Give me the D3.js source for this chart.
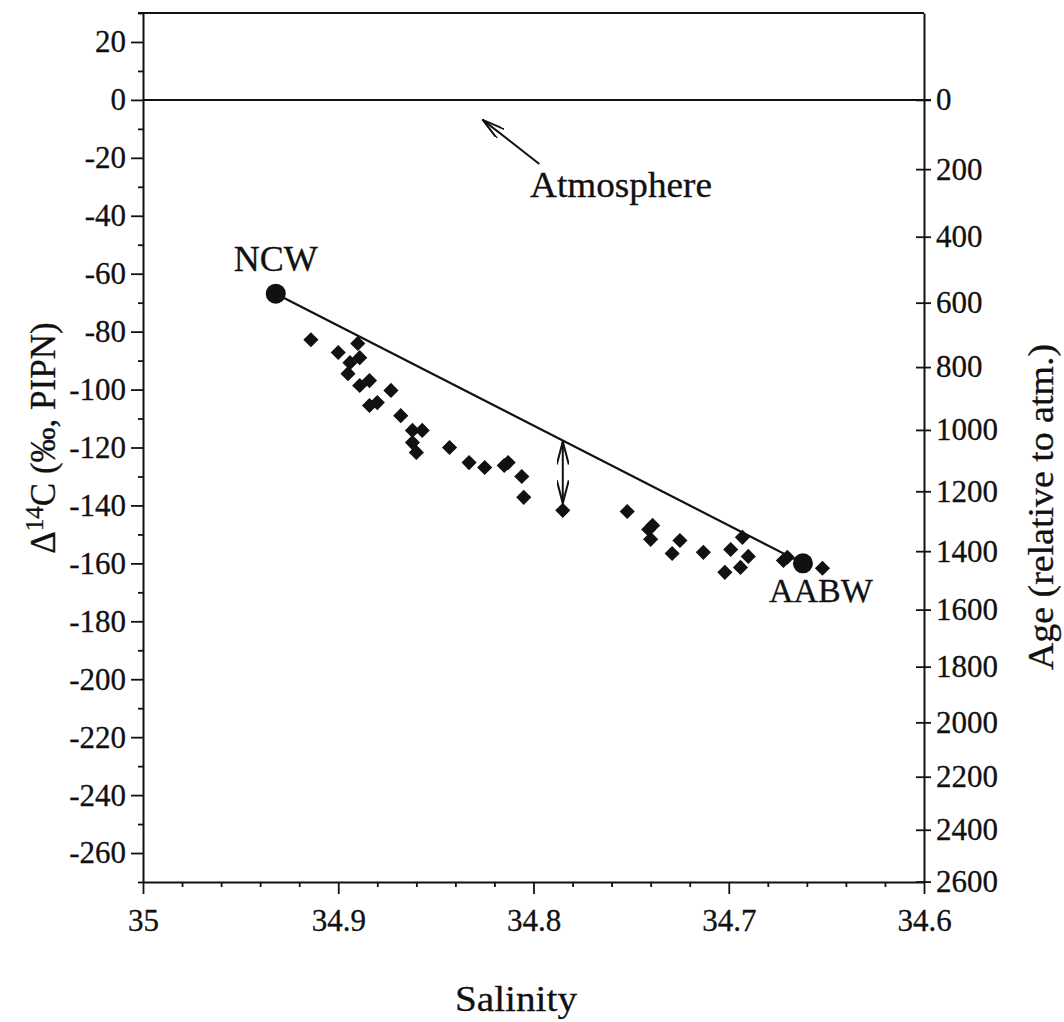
<!DOCTYPE html>
<html>
<head>
<meta charset="utf-8">
<script src="https://cdn.jsdelivr.net/npm/d3@7"></script>
<style>
  body { margin: 0; background: #fff; }
  svg text { stroke: #111; stroke-width: 0.3px; }
</style>
</head>
<body>
<div class="chart"></div>
<script>
const serif = "'Liberation Serif', 'Times New Roman', serif";

// measured samples
const salinity = [34.914, 34.900, 34.890, 34.889, 34.894, 34.895, 34.889, 34.884, 34.873, 34.884,
    34.880, 34.868, 34.862, 34.857, 34.862, 34.860, 34.843, 34.833, 34.825, 34.815,
    34.813, 34.806, 34.805, 34.785, 34.752, 34.739, 34.741, 34.740, 34.725, 34.729,
    34.713, 34.699, 34.693, 34.690, 34.694, 34.702, 34.670, 34.672, 34.652];
const delta14C = [-82.8, -87.2, -84.1, -89.0, -90.7, -94.5, -98.6, -96.9, -100.3, -105.5,
    -104.5, -109.0, -114.1, -114.1, -118.3, -121.7, -120.0, -125.2, -126.9, -126.2,
    -125.2, -130.0, -137.2, -141.7, -142.1, -146.9, -148.3, -151.7, -152.1, -156.6,
    -156.2, -155.2, -151.0, -157.6, -161.4, -163.1, -157.9, -159.0, -161.7];

// end members (mixing line)
const endNames = ["NCW", "AABW"];
const endSalinity = [34.932, 34.662];
const endDelta = [-66.9, -160.0];

const deltaTicks = d3.range(-260, 21, 20);
const ageTicks = d3.range(0, 2601, 200);
const salTicks = [35, 34.9, 34.8, 34.7, 34.6];

// annotation: atmosphere arrow (tail -> head), and gap arrow at one sample
const atmArrowSal = [34.797, 34.826];
const atmArrowDelta = [-22.1, -6.9];
const gapSampleIndex = 23;

const meanLife = 8267;
const ageToDelta = a => 1000 * (Math.exp(-a / meanLife) - 1);

const W = 1064, H = 1022;
const margin = {top: 13, left: 143, right: 140, bottom: 140};
const width = W - margin.left - margin.right;
const height = H - margin.top - margin.bottom;

const x = d3.scaleLinear().domain([35, 34.6]).range([0, width]);
const y = d3.scaleLinear().domain([30, -270]).range([0, height]);

const svg = d3.select(".chart").append("svg")
    .attr("width", W)
    .attr("height", H)
    .attr("font-family", serif);

const defs = svg.append("defs");
defs.append("marker")
    .attr("id", "head")
    .attr("viewBox", "0 0 24 12")
    .attr("refX", 23).attr("refY", 6)
    .attr("markerWidth", 24).attr("markerHeight", 12)
    .attr("markerUnits", "userSpaceOnUse")
    .attr("orient", "auto-start-reverse")
    .append("path")
    .attr("d", "M0,0 L23,6 L0,12")
    .attr("fill", "none")
    .attr("stroke", "#111")
    .attr("stroke-width", 2);

const g = svg.append("g")
    .attr("transform", `translate(${margin.left},${margin.top})`);

// top frame
g.append("line")
    .attr("x1", -5).attr("x2", width)
    .attr("y1", 0).attr("y2", 0)
    .attr("stroke", "#111").attr("stroke-width", 2);

// zero line
g.append("line")
    .attr("x1", 0).attr("x2", width + 7)
    .attr("y1", y(0)).attr("y2", y(0))
    .attr("stroke", "#111").attr("stroke-width", 2);

function styleAxis(a) {
    a.attr("font-family", serif).attr("font-size", 31);
    a.select(".domain").attr("stroke", "#111").attr("stroke-width", 2);
    a.selectAll(".tick line").attr("stroke", "#111").attr("stroke-width", 1.8);
    a.selectAll("text").attr("fill", "#111");
}

// left axis
const leftMinor = d3.range(-270, 31, 10).filter(d => d % 20 !== 0);
g.append("g")
    .call(d3.axisLeft(y).tickValues(leftMinor).tickSize(5).tickFormat(""))
    .call(styleAxis)
    .call(a => a.select(".domain").remove());
g.append("g")
    .attr("class", "y-axis")
    .call(d3.axisLeft(y).tickValues(deltaTicks).tickSize(12).tickSizeOuter(0).tickPadding(5).tickFormat(d => d))
    .call(styleAxis);

// right axis (age)
g.append("g")
    .attr("transform", `translate(${width},0)`)
    .call(d3.axisRight(y).tickValues(ageTicks.map(ageToDelta)).tickSize(7).tickSizeOuter(0).tickPadding(5)
        .tickFormat((d, i) => ageTicks[i]))
    .call(styleAxis)
    .call(a => a.selectAll(".tick line").attr("x1", -8).attr("x2", 7));

// bottom axis
const salMinor = d3.range(0, 21).map(i => +(35 - i * 0.02).toFixed(2)).filter(d => Math.round(d * 100) % 10 !== 0);
g.append("g")
    .attr("transform", `translate(0,${height})`)
    .call(d3.axisBottom(x).tickValues(salMinor).tickSize(5).tickFormat(""))
    .call(styleAxis)
    .call(a => a.select(".domain").remove());
g.append("g")
    .attr("transform", `translate(0,${height})`)
    .call(d3.axisBottom(x).tickValues(salTicks).tickSize(12).tickSizeOuter(0).tickPadding(15).tickFormat(d => d))
    .call(styleAxis);

// mixing line
g.append("line")
    .attr("x1", x(endSalinity[0])).attr("y1", y(endDelta[0]))
    .attr("x2", x(endSalinity[1])).attr("y2", y(endDelta[1]))
    .attr("stroke", "#111").attr("stroke-width", 2.2);

// samples
g.selectAll(".pt")
    .data(salinity)
    .enter()
    .append("path")
    .attr("class", "pt")
    .attr("d", d3.symbol(d3.symbolSquare, 115))
    .attr("transform", (d, i) => `translate(${x(d)},${y(delta14C[i])}) rotate(45)`)
    .attr("fill", "#111");

// end member dots + labels
g.selectAll(".end")
    .data(endNames)
    .enter()
    .append("circle")
    .attr("cx", (d, i) => x(endSalinity[i]))
    .attr("cy", (d, i) => y(endDelta[i]))
    .attr("r", 10)
    .attr("fill", "#111");

g.append("text")
    .attr("x", x(endSalinity[0]))
    .attr("y", y(endDelta[0]) - 23)
    .attr("text-anchor", "middle")
    .attr("font-size", 36)
    .attr("fill", "#111")
    .text(endNames[0]);

g.append("text")
    .attr("x", x(endSalinity[1]) + 18)
    .attr("y", y(endDelta[1]) + 39)
    .attr("text-anchor", "middle")
    .attr("font-size", 34)
    .attr("fill", "#111")
    .text(endNames[1]);

// gap arrow between mixing line and a sample
const sGap = salinity[gapSampleIndex];
const lineAt = d3.scaleLinear().domain(endSalinity).range(endDelta);
g.append("line")
    .attr("x1", x(sGap)).attr("x2", x(sGap))
    .attr("y1", y(lineAt(sGap)) + 1)
    .attr("y2", y(delta14C[gapSampleIndex]) - 7)
    .attr("stroke", "#111").attr("stroke-width", 2)
    .attr("marker-start", "url(#head)")
    .attr("marker-end", "url(#head)");

// atmosphere arrow + label
g.append("line")
    .attr("x1", x(atmArrowSal[0])).attr("y1", y(atmArrowDelta[0]))
    .attr("x2", x(atmArrowSal[1])).attr("y2", y(atmArrowDelta[1]))
    .attr("stroke", "#111").attr("stroke-width", 2)
    .attr("marker-end", "url(#head)");

svg.append("text")
    .attr("x", 530)
    .attr("y", 197)
    .attr("font-size", 35)
    .attr("textLength", 182)
    .attr("lengthAdjust", "spacingAndGlyphs")
    .attr("fill", "#111")
    .text("Atmosphere");

// axis titles
svg.append("text")
    .attr("x", 516)
    .attr("y", 1011)
    .attr("text-anchor", "middle")
    .attr("font-size", 36)
    .attr("textLength", 122)
    .attr("lengthAdjust", "spacingAndGlyphs")
    .attr("fill", "#111")
    .text("Salinity");

const yTitle = svg.append("text")
    .attr("transform", "translate(55,438) rotate(-90)")
    .attr("text-anchor", "middle")
    .attr("font-size", 35)
    .attr("fill", "#111");
yTitle.append("tspan").text("\u0394");
yTitle.append("tspan").attr("dy", -12).attr("font-size", 25).text("14");
yTitle.append("tspan").attr("dy", 12).text("C (\u2030, PIPN)");

svg.append("text")
    .attr("transform", "translate(1053,507) rotate(-90)")
    .attr("text-anchor", "middle")
    .attr("font-size", 35)
    .attr("textLength", 326)
    .attr("lengthAdjust", "spacingAndGlyphs")
    .attr("fill", "#111")
    .text("Age (relative to atm.)");
</script>
</body>
</html>
